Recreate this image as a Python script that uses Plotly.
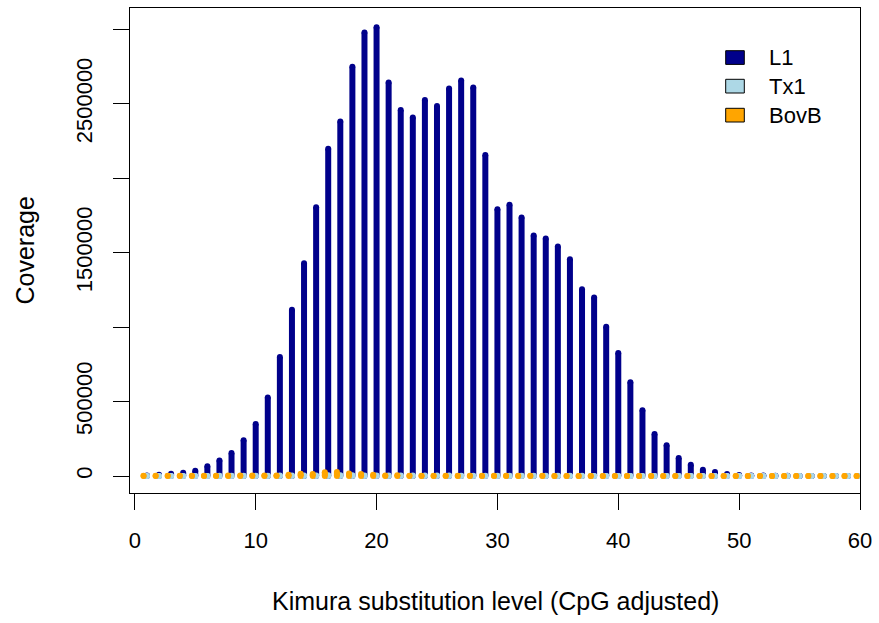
import plotly.graph_objects as go

# Kimura substitution level bins (1..60)
levels = list(range(1, 61))

# Coverage per bin for each repeat family
l1_cov = [
    3000, 8700, 15400, 22000, 35600, 65000, 105000, 154000, 240000, 349000,
    528000, 799000, 1116000, 1429000, 1805000, 2197000, 2380000, 2749000, 2978000, 3013000,
    2642000, 2458000, 2407000, 2526000, 2485000, 2602000, 2656000, 2609000, 2156000, 1792000,
    1821000, 1736000, 1615000, 1595000, 1541000, 1456000, 1255000, 1199000, 1002000, 827000,
    629000, 441000, 282000, 206000, 121000, 76000, 42000, 27000, 13000, 7000,
    4000, 3000, 2000, 1500, 1000, 800, 600, 500, 400, 300,
]
tx1_cov = [
    300, 400, 500, 600, 800, 1000, 1200, 1500, 1800, 2200,
    2600, 3000, 3400, 3800, 4200, 4500, 4600, 4400, 4200, 4000,
    3800, 3600, 3400, 3200, 3000, 2800, 2600, 2400, 2200, 2000,
    1800, 1600, 1500, 1400, 1300, 1200, 1100, 1000, 900, 800,
    700, 600, 500, 450, 400, 350, 300, 250, 200, 180,
    160, 140, 120, 100, 90, 80, 70, 60, 50, 40,
]
bovb_cov = [
    1500, 1600, 1800, 2000, 2200, 2400, 2600, 2800, 3000, 3200,
    3500, 4000, 9000, 15000, 13000, 26000, 27000, 17000, 14000, 9000,
    4000, 6000, 2500, 2200, 2000, 1900, 1800, 1700, 1600, 1500,
    1400, 1300, 1200, 1100, 1000, 950, 900, 850, 800, 750,
    700, 650, 600, 550, 500, 450, 400, 350, 300, 250,
    200, 180, 160, 140, 120, 100, 90, 80, 70, 60,
]

family_names = ["L1", "Tx1", "BovB"]
family_colors = ["#00008B", "#ADD8E6", "#FFA500"]
family_offsets = [0.0, 0.0, -0.28]

x_ticks = [0, 10, 20, 30, 40, 50, 60]
y_ticks = [0, 500000, 1000000, 1500000, 2000000, 2500000, 3000000]
y_tick_text = ["0", "500000", "", "1500000", "", "2500000", ""]

FONT = "Liberation Sans, Arial, Helvetica, sans-serif"
L, R, T, B = 130, 19, 8, 130
W, H = 879, 623
PW, PH = W - L - R, H - T - B


def stems(xs, ys, dx):
    """Vertical 'type h' segments from 0 to each value."""
    sx, sy = [], []
    for x, y in zip(xs, ys):
        sx += [x + dx, x + dx, None]
        sy += [0, y, None]
    return sx, sy


fig = go.Figure()
for name, vals, col, dx in zip(family_names, [l1_cov, tx1_cov, bovb_cov],
                               family_colors, family_offsets):
    sx, sy = stems(levels, vals, dx)
    fig.add_trace(go.Scatter(
        x=sx, y=sy, mode="lines+markers", name=name,
        line=dict(color=col, width=6),
        marker=dict(color=col, size=6, line=dict(width=0)),
        connectgaps=False, showlegend=False, hoverinfo="skip",
    ))


def px_x(p):
    return (p - L) / PW


def px_y(p):
    return (H - B - p) / PH


# legend: filled boxes with black outline and labels
shapes = []
annotations = []
box_tops = [50.7, 79.3, 108.3]
for name, col, top in zip(family_names, family_colors, box_tops):
    shapes.append(dict(
        type="rect", xref="paper", yref="paper",
        x0=px_x(725.7), x1=px_x(744.3), y0=px_y(top), y1=px_y(top + 13.7),
        fillcolor=col, line=dict(color="black", width=1),
    ))
    annotations.append(dict(
        text=name, xref="paper", yref="paper",
        x=px_x(767), y=px_y(top + 6.85), xanchor="left", yanchor="middle",
        showarrow=False, font=dict(family=FONT, size=22, color="black"),
    ))

annotations.append(dict(
    text="Kimura substitution level (CpG adjusted)", xref="paper", yref="paper",
    x=px_x((130 + 860) / 2), y=px_y(601), xanchor="center", yanchor="middle",
    showarrow=False, font=dict(family=FONT, size=25, color="black"),
))
annotations.append(dict(
    text="Coverage", xref="paper", yref="paper",
    x=px_x(24), y=px_y((8 + 493) / 2), xanchor="center", yanchor="middle",
    textangle=-90, showarrow=False, font=dict(family=FONT, size=25, color="black"),
))

fig.update_layout(
    width=W, height=H,
    margin=dict(l=L, r=R, t=T, b=B, pad=0),
    paper_bgcolor="white", plot_bgcolor="white",
    showlegend=False,
    shapes=shapes, annotations=annotations,
    font=dict(family=FONT, size=22, color="black"),
    xaxis=dict(
        range=[-0.4, 60.0], tickmode="array", tickvals=x_ticks,
        ticks="outside", ticklen=16, tickwidth=1, tickcolor="black",
        showline=True, linecolor="black", linewidth=1, mirror=True,
        showgrid=False, zeroline=False, ticklabelstandoff=12,
        tickfont=dict(family=FONT, size=22, color="black"),
    ),
    yaxis=dict(
        range=[-114000, 3143000], tickmode="array", tickvals=y_ticks,
        ticktext=y_tick_text, tickangle=-90,
        ticks="outside", ticklen=16, tickwidth=1, tickcolor="black",
        showline=True, linecolor="black", linewidth=1, mirror=True,
        showgrid=False, zeroline=False, ticklabelstandoff=12,
        tickfont=dict(family=FONT, size=22, color="black"),
    ),
)

fig.write_html("out.html")
